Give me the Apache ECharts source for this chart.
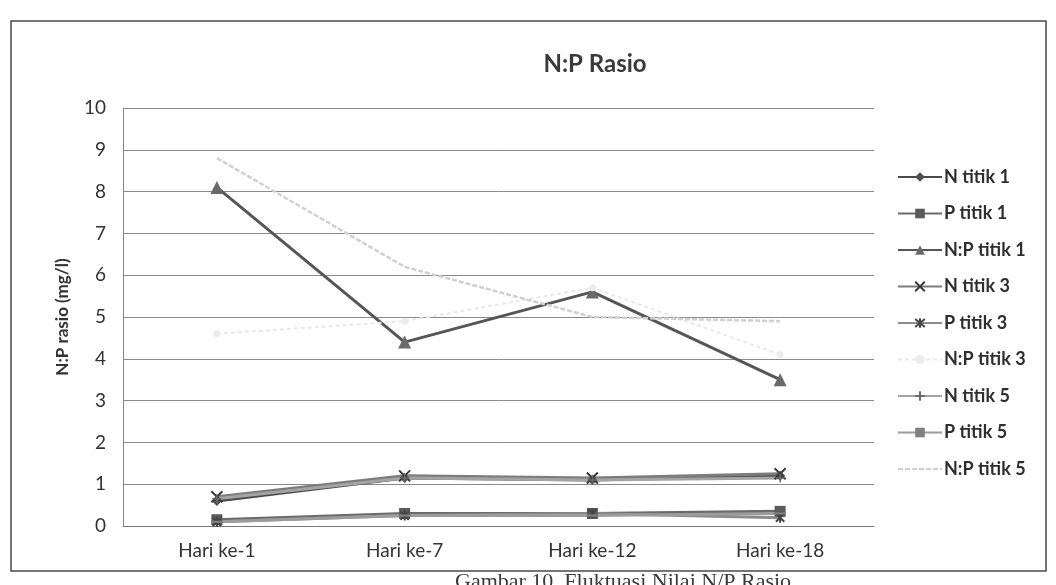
<!DOCTYPE html>
<html>
<head>
<meta charset="utf-8">
<script src="https://cdn.jsdelivr.net/npm/echarts@6/dist/echarts.min.js"></script>
<style>
  html, body { margin: 0; padding: 0; background: #ffffff; }
  #chart { width: 1056px; height: 585px; }
</style>
</head>
<body>
<div id="chart"></div>
<script>
// Sampling days
const categories = ['Hari ke-1', 'Hari ke-7', 'Hari ke-12', 'Hari ke-18'];

// Nitrogen, phosphate and N:P ratio at sampling points 1, 3 and 5
const nTitik1  = [0.60, 1.15, 1.10, 1.20];
const pTitik1  = [0.15, 0.30, 0.30, 0.35];
const npTitik1 = [8.1, 4.4, 5.6, 3.5];
const nTitik3  = [0.70, 1.20, 1.15, 1.25];
const pTitik3  = [0.10, 0.25, 0.30, 0.20];
const npTitik3 = [4.6, 4.9, 5.7, 4.1];
const nTitik5  = [0.65, 1.15, 1.10, 1.15];
const pTitik5  = [0.10, 0.25, 0.25, 0.30];
const npTitik5 = [8.8, 6.2, 5.0, 4.9];

const yTicks = [0, 1, 2, 3, 4, 5, 6, 7, 8, 9, 10];

const FONT = 'Lato, "Open Sans", sans-serif';

// marker shapes
const X_MARK = 'path://M0,0L10,10M10,0L0,10';
const STAR_MARK = 'path://M0,0L10,10M10,0L0,10M5,-1L5,11';
const PLUS_MARK = 'path://M5,0L5,10M0,5L10,5';
const DASH_MARK = 'path://M0,0L10,0L10,2L0,2Z';

function lineSeries(name, data, opt) {
  return {
    name: name,
    type: 'line',
    data: data,
    symbol: opt.symbol,
    symbolSize: opt.size || 9,
    symbolKeepAspect: true,
    showAllSymbol: true,
    lineStyle: { color: opt.line, width: opt.width || 3, type: opt.dash || 'solid' },
    itemStyle: {
      color: opt.fill,
      borderColor: opt.stroke || opt.fill,
      borderWidth: opt.strokeWidth || 0
    },
    emphasis: { disabled: true },
    z: opt.z || 2
  };
}

const series = [
  lineSeries('N titik 1',   nTitik1,  { symbol: 'diamond',  fill: '#4f4f4f', line: '#4a4a4a', size: 10 }),
  lineSeries('P titik 1',   pTitik1,  { symbol: 'rect',     fill: '#5a5a5a', line: '#6a6a6a', size: 11 }),
  lineSeries('N:P titik 1', npTitik1, { symbol: 'triangle', fill: '#6a6a6a', line: '#565656', size: 13 }),
  lineSeries('N titik 3',   nTitik3,  { symbol: X_MARK,     fill: 'none', stroke: '#3a3a3a', strokeWidth: 2, line: '#7c7c7c', size: 11 }),
  lineSeries('P titik 3',   pTitik3,  { symbol: STAR_MARK,  fill: 'none', stroke: '#444444', strokeWidth: 2, line: '#8c8c8c', size: 10 }),
  lineSeries('N:P titik 3', npTitik3, { symbol: 'circle',   fill: '#ececec', line: '#e8e8e8', size: 7, width: 2, dash: [4, 3] }),
  lineSeries('N titik 5',   nTitik5,  { symbol: PLUS_MARK,  fill: 'none', stroke: '#6a6a6a', strokeWidth: 1.5, line: '#a4a4a4', size: 9 }),
  lineSeries('P titik 5',   pTitik5,  { symbol: DASH_MARK,  fill: '#808080', line: '#9c9c9c', size: 11 }),
  // plain line: transparent marker so the legend shows only the stroke
  lineSeries('N:P titik 5', npTitik5, { symbol: 'circle',   fill: 'rgba(0,0,0,0)', line: '#d0d0d0', size: 1, width: 2.5, dash: [5, 2] })
];

const chart = echarts.init(document.getElementById('chart'), null, { renderer: 'canvas' });

chart.setOption({
  animation: false,
  backgroundColor: '#ffffff',
  textStyle: { fontFamily: FONT },
  title: {
    text: 'N:P Rasio',
    left: 590,
    top: 47,
    textAlign: 'center',
    textStyle: { fontFamily: FONT, fontSize: 24, fontWeight: 'bold', color: '#3a3a3a' }
  },
  grid: { left: 123, right: 182, top: 108, bottom: 59 },
  xAxis: {
    type: 'category',
    data: categories,
    boundaryGap: true,
    axisLine: { show: true, lineStyle: { color: '#777777', width: 1 } },
    axisTick: { show: false },
    axisLabel: { margin: 15, fontSize: 19, color: '#333333', fontFamily: FONT },
    splitLine: { show: false }
  },
  yAxis: {
    type: 'value',
    min: yTicks[0],
    max: yTicks[yTicks.length - 1],
    interval: 1,
    name: 'N:P rasio (mg/l)',
    nameLocation: 'middle',
    nameGap: 52,
    nameRotate: 90,
    nameTextStyle: { fontSize: 17, fontWeight: 'bold', color: '#333333', fontFamily: FONT },
    axisLine: { show: true, lineStyle: { color: '#888888', width: 1 } },
    axisTick: { show: false },
    axisLabel: { margin: 17, fontSize: 19, color: '#333333', fontFamily: FONT },
    splitLine: { show: true, lineStyle: { color: '#8a8a8a', width: 1 } }
  },
  legend: {
    orient: 'vertical',
    left: 892,
    top: 163,
    itemWidth: 44,
    itemHeight: 12,
    itemGap: 18.5,
    selectedMode: false,
    textStyle: { fontSize: 18, fontWeight: 'bold', color: '#2e2e2e', fontFamily: FONT, padding: [0, 0, 0, -3] },
    data: series.map(s => s.name)
  },
  series: series,
  graphic: [
    {
      type: 'rect',
      shape: { x: 11, y: 21, width: 1035, height: 550 },
      style: { fill: 'none', stroke: '#4a4a4a', lineWidth: 1.5 },
      silent: true,
      z: -1
    },
    {
      type: 'text',
      left: 455,
      top: 571,
      style: {
        text: 'Gambar 10. Fluktuasi Nilai N/P Rasio',
        font: '22px "Liberation Serif", "DejaVu Serif", serif',
        fill: '#3a3a3a'
      },
      silent: true
    }
  ]
});
</script>
</body>
</html>
